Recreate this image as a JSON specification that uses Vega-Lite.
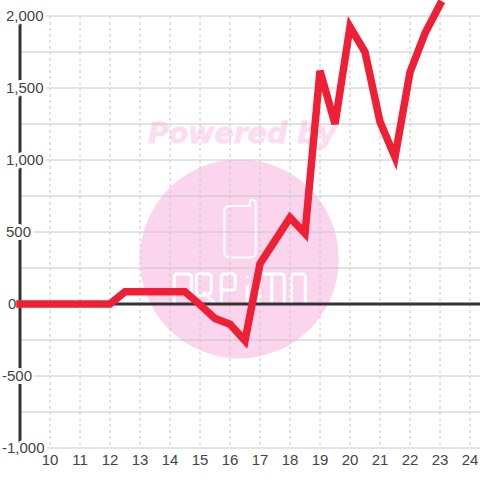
{
"$schema":"https://vega.github.io/schema/vega-lite/v6.json",
"width":460,"height":432,
"autosize":{"type":"none"},
"padding":{"left":20,"top":16,"right":0,"bottom":32},
"background":"#ffffff",
"config":{"view":{"stroke":null},"font":"Liberation Sans"},
"datasets":{
"series":[{"x":9,"y":0},{"x":12,"y":0},{"x":12.5,"y":85},{"x":14.5,"y":85},{"x":15,"y":-5},{"x":15.5,"y":-100},{"x":16,"y":-140},{"x":16.5,"y":-255},{"x":17,"y":280},{"x":17.5,"y":440},{"x":18,"y":600},{"x":18.5,"y":490},{"x":19,"y":1620},{"x":19.5,"y":1250},{"x":20,"y":1925},{"x":20.5,"y":1750},{"x":21,"y":1265},{"x":21.5,"y":1020},{"x":22,"y":1610},{"x":22.5,"y":1880},{"x":23,"y":2080}],
"xt":[{"t":10},{"t":11},{"t":12},{"t":13},{"t":14},{"t":15},{"t":16},{"t":17},{"t":18},{"t":19},{"t":20},{"t":21},{"t":22},{"t":23},{"t":24}],
"yt":[{"v":-1000},{"v":-750},{"v":-500},{"v":-250},{"v":0},{"v":250},{"v":500},{"v":750},{"v":1000},{"v":1250},{"v":1500},{"v":1750},{"v":2000}],
"yl":[{"v":-1000,"label":"-1,000"},{"v":-500,"label":"-500"},{"v":0,"label":"0"},{"v":500,"label":"500"},{"v":1000,"label":"1,000"},{"v":1500,"label":"1,500"},{"v":2000,"label":"2,000"}],
"wm":[{"x":16.31,"y":313}],
"wt":[{"x":16.4,"y":1184,"label":"Powered by"}]
},
"layer":[
{"data":{"name":"wm"},"mark":{"type":"point","filled":true,"shape":"circle","size":39601,"color":"#fbd5ee","opacity":1,"clip":false},
"encoding":{"x":{"field":"x","type":"quantitative","scale":{"domain":[9,24.3333],"nice":false,"zero":false},"axis":null},"y":{"field":"y","type":"quantitative","scale":{"domain":[-1000,2000],"nice":false,"zero":false},"axis":null}}},
{"data":{"name":"wm"},"mark":{"type":"point","filled":false,"size":40000,"stroke":"#ffffff","strokeWidth":2,"opacity":1,"shape":"M-.15,-.47 Q-.15,-.53 -.09,-.53 L.105,-.53 L.105,-.57 Q.105,-.59 .13,-.59 Q.165,-.59 .165,-.56 L.165,-.07 Q.165,-.015 .11,-.015 L-.09,-.015 Q-.15,-.015 -.15,-.07 Z"},
"encoding":{"x":{"field":"x","type":"quantitative"},"y":{"field":"y","type":"quantitative"}}},
{"data":{"name":"wm"},"mark":{"type":"point","filled":false,"size":40000,"stroke":"#ffffff","strokeWidth":3,"opacity":1,"shape":"M-.65,.45 L-.65,.18 Q-.65,.15 -.62,.15 L-.51,.15 Q-.48,.15 -.48,.18 L-.48,.45 M-.43,.18 Q-.43,.15 -.4,.15 L-.31,.15 Q-.28,.15 -.28,.18 L-.28,.3 Q-.28,.36 -.34,.36 L-.43,.36 Z M-.36,.33 L-.24,.45 M-.18,.45 L-.18,.18 Q-.18,.15 -.15,.15 L-.07,.15 Q-.04,.15 -.04,.18 L-.04,.28 Q-.04,.31 -.07,.31 L-.18,.31 M.08,.17 L.08,.19 M.08,.26 L.08,.45 M.2,.45 L.2,.18 Q.2,.15 .23,.15 L.42,.15 Q.45,.15 .45,.18 L.45,.45 M.325,.15 L.325,.45 M.52,.45 L.52,.18 Q.52,.15 .55,.15 L.63,.15 Q.66,.15 .66,.18 L.66,.45"},
"encoding":{"x":{"field":"x","type":"quantitative"},"y":{"field":"y","type":"quantitative"}}},
{"data":{"name":"wt"},"mark":{"type":"text","font":"DejaVu Sans","fontWeight":"bold","fontStyle":"italic","fontSize":28.4,"color":"#fcdcf0","stroke":"#fcdcf0","strokeWidth":0.8,"align":"center","baseline":"middle"},
"encoding":{"x":{"field":"x","type":"quantitative"},"y":{"field":"y","type":"quantitative"},"text":{"field":"label"}}},
{"data":{"name":"xt"},"mark":{"type":"rule","color":"#c8c8c8","strokeWidth":1,"strokeDash":[3,3]},
"encoding":{"x":{"field":"t","type":"quantitative"}}},
{"data":{"name":"yt"},"mark":{"type":"rule","color":"#c8c8c8","strokeWidth":1},
"encoding":{"y":{"field":"v","type":"quantitative"}}},
{"data":{"name":"yl"},"transform":[{"filter":"datum.v===0"}],"mark":{"type":"rule","color":"#333333","strokeWidth":3},
"encoding":{"y":{"field":"v","type":"quantitative"}}},
{"data":{"values":[{"x":9,"y":2000,"y2":-1000}]},"mark":{"type":"rule","color":"#333333","strokeWidth":3},
"encoding":{"x":{"field":"x","type":"quantitative"},"y":{"field":"y","type":"quantitative"},"y2":{"field":"y2"}}},
{"data":{"name":"yl"},"mark":{"type":"text","align":"left","baseline":"middle","fontSize":15,"stroke":"#ffffff","strokeWidth":6,"strokeJoin":"round","color":"#ffffff","dx":{"expr":"datum.v<0?-4:(datum.v===0?2:0)"}},
"encoding":{"x":{"datum":8.533,"type":"quantitative"},"y":{"field":"v","type":"quantitative"},"text":{"field":"label"}}},
{"data":{"name":"yl"},"mark":{"type":"text","align":"left","baseline":"middle","fontSize":15,"color":"#444444","dx":{"expr":"datum.v<0?-4:(datum.v===0?2:0)"}},
"encoding":{"x":{"datum":8.533,"type":"quantitative"},"y":{"field":"v","type":"quantitative"},"text":{"field":"label"}}},
{"data":{"name":"xt"},"mark":{"type":"text","align":"center","baseline":"middle","fontSize":15,"color":"#444444","dy":12},
"encoding":{"x":{"field":"t","type":"quantitative"},"y":{"datum":-1000,"type":"quantitative"},"text":{"field":"t","type":"quantitative","format":"d"}}},
{"data":{"name":"series"},"mark":{"type":"line","color":"#ef2035","strokeWidth":7.5,"strokeCap":"square","strokeJoin":"miter","strokeMiterLimit":4,"clip":false},
"encoding":{"x":{"field":"x","type":"quantitative"},"y":{"field":"y","type":"quantitative"}}}
]
}
